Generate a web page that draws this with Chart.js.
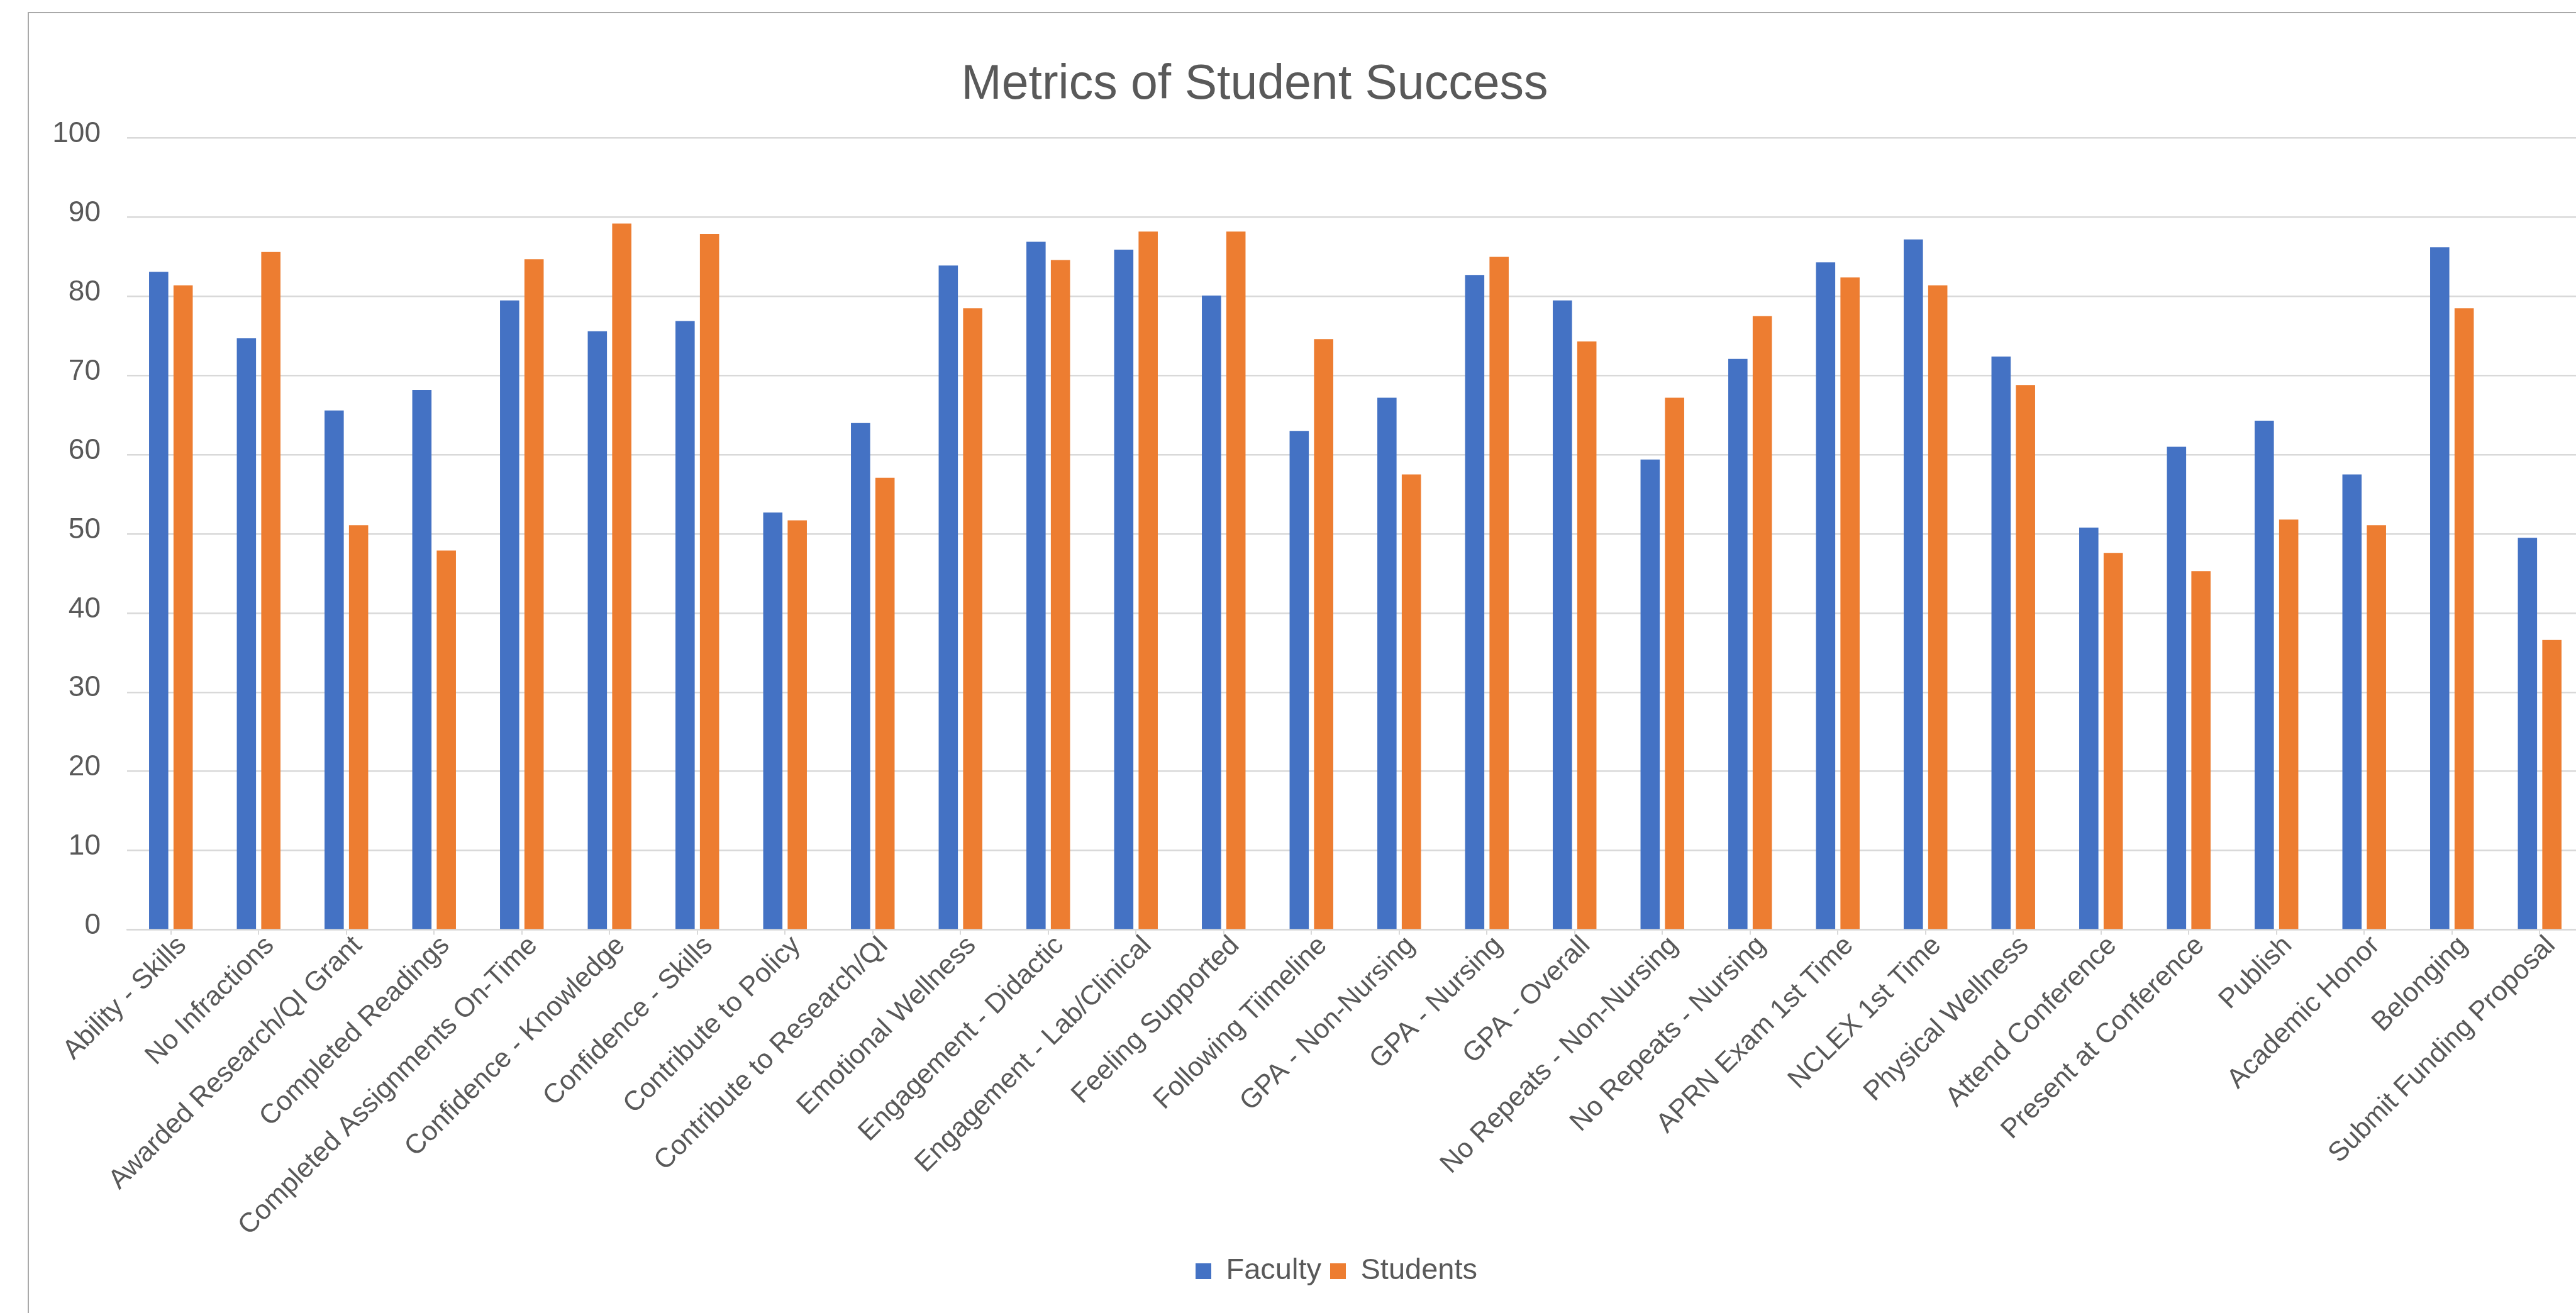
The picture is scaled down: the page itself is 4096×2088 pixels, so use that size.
<!DOCTYPE html>
<html>
<head>
<meta charset="utf-8">
<title>Metrics of Student Success</title>
<script src="https://cdn.jsdelivr.net/npm/chart.js@4.4.1/dist/chart.umd.min.js"></script>
<style>
  html, body { margin: 0; padding: 0; background: #fff; overflow: hidden; }
  #wrap { width: 4160px; height: 2088px; }
</style>
</head>
<body>
<div id="wrap"><canvas id="successChart" width="4160" height="2088"></canvas></div>
<script>
const categories = [
    'Ability - Skills', 'No Infractions', 'Awarded Research/QI Grant', 'Completed Readings',
    'Completed Assignments On-Time', 'Confidence - Knowledge', 'Confidence - Skills',
    'Contribute to Policy', 'Contribute to Research/QI', 'Emotional Wellness',
    'Engagement - Didactic', 'Engagement - Lab/Clinical', 'Feeling Supported',
    'Following Tiimeline', 'GPA - Non-Nursing', 'GPA - Nursing', 'GPA - Overall',
    'No Repeats - Non-Nursing', 'No Repeats - Nursing', 'APRN Exam 1st Time',
    'NCLEX 1st Time', 'Physical Wellness', 'Attend Conference', 'Present at Conference',
    'Publish', 'Academic Honor', 'Belonging', 'Submit Funding Proposal'
];
const faculty = [83.1, 74.7, 65.6, 68.2, 79.5, 75.6, 76.9, 52.7, 64.0, 83.9, 86.9, 85.9, 80.1, 63.0,
    67.2, 82.7, 79.5, 59.4, 72.1, 84.3, 87.2, 72.4, 50.8, 61.0, 64.3, 57.5, 86.2, 49.5];
const students = [81.4, 85.6, 51.1, 47.9, 84.7, 89.2, 87.9, 51.7, 57.1, 78.5, 84.6, 88.2, 88.2, 74.6,
    57.5, 85.0, 74.3, 67.2, 77.5, 82.4, 81.4, 68.8, 47.6, 45.3, 51.8, 51.1, 78.5, 36.6];
const yTicks = [0, 10, 20, 30, 40, 50, 60, 70, 80, 90, 100];

const FONT = "'Liberation Sans', Arial, Helvetica, sans-serif";
const TEXT = '#595959';
const GRID = '#d9d9d9';

// frame around the chart (right and bottom edges fall outside the window) + title
const framePlugin = {
    id: 'frame',
    afterLayout(chart) {
        // legend sits a bit right of the canvas centre in the original
        chart.legend.left += 41;
        chart.legend.right += 41;
    },
    beforeDraw(chart) {
        const c = chart.ctx;
        c.save();
        c.fillStyle = '#ffffff';
        c.fillRect(0, 0, chart.width, chart.height);
        c.strokeStyle = '#a9a9a9';
        c.lineWidth = 2;
        c.strokeRect(45, 20, chart.width + 20, chart.height + 20);
        c.restore();
    },
    afterDraw(chart) {
        const c = chart.ctx;
        c.save();
        c.fillStyle = TEXT;
        c.font = '77px ' + FONT;
        c.textAlign = 'center';
        c.textBaseline = 'alphabetic';
        c.fillText('Metrics of Student Success', 1995, 157);
        c.restore();
    }
};

const ctx = document.getElementById('successChart').getContext('2d');
const successChart = new Chart(ctx, {
    type: 'bar',
    data: {
        labels: categories,
        datasets: [{
            label: 'Faculty',
            data: faculty,
            backgroundColor: '#4472c4',
            categoryPercentage: 0.557,
            barPercentage: 0.787
        }, {
            label: 'Students',
            data: students,
            backgroundColor: '#ed7d31',
            categoryPercentage: 0.557,
            barPercentage: 0.787
        }]
    },
    options: {
        responsive: false,
        animation: false,
        devicePixelRatio: 1,
        layout: { padding: { left: 60, right: 52, top: 219.6, bottom: 33 } },
        plugins: {
            title: { display: false },
            tooltip: { enabled: false },
            legend: {
                position: 'bottom',
                labels: {
                    boxWidth: 25,
                    boxHeight: 25,
                    padding: 14,
                    color: TEXT,
                    font: { family: FONT, size: 47 }
                }
            }
        },
        scales: {
            x: {
                offset: true,
                grid: { display: true, drawOnChartArea: false, drawTicks: true, tickLength: 8, offset: false, color: GRID, lineWidth: 2 },
                border: { display: true, color: GRID, width: 2.5 },
                ticks: {
                    autoSkip: false,
                    minRotation: 45,
                    maxRotation: 45,
                    labelOffset: 18,
                    padding: -8,
                    color: TEXT,
                    font: { family: FONT, size: 43.5 }
                },
                afterFit(scale) { scale.height = 505.6; }
            },
            y: {
                min: 0,
                max: 100,
                afterBuildTicks(scale) { scale.ticks = yTicks.map(v => ({ value: v })); },
                grid: { color: GRID, lineWidth: 2.5, drawTicks: false },
                border: { display: false },
                ticks: {
                    padding: 42,
                    labelOffset: -6,
                    color: TEXT,
                    font: { family: FONT, size: 46 }
                },
                afterFit(scale) { scale.width = 142; }
            }
        }
    },
    plugins: [framePlugin]
});
</script>
</body>
</html>
